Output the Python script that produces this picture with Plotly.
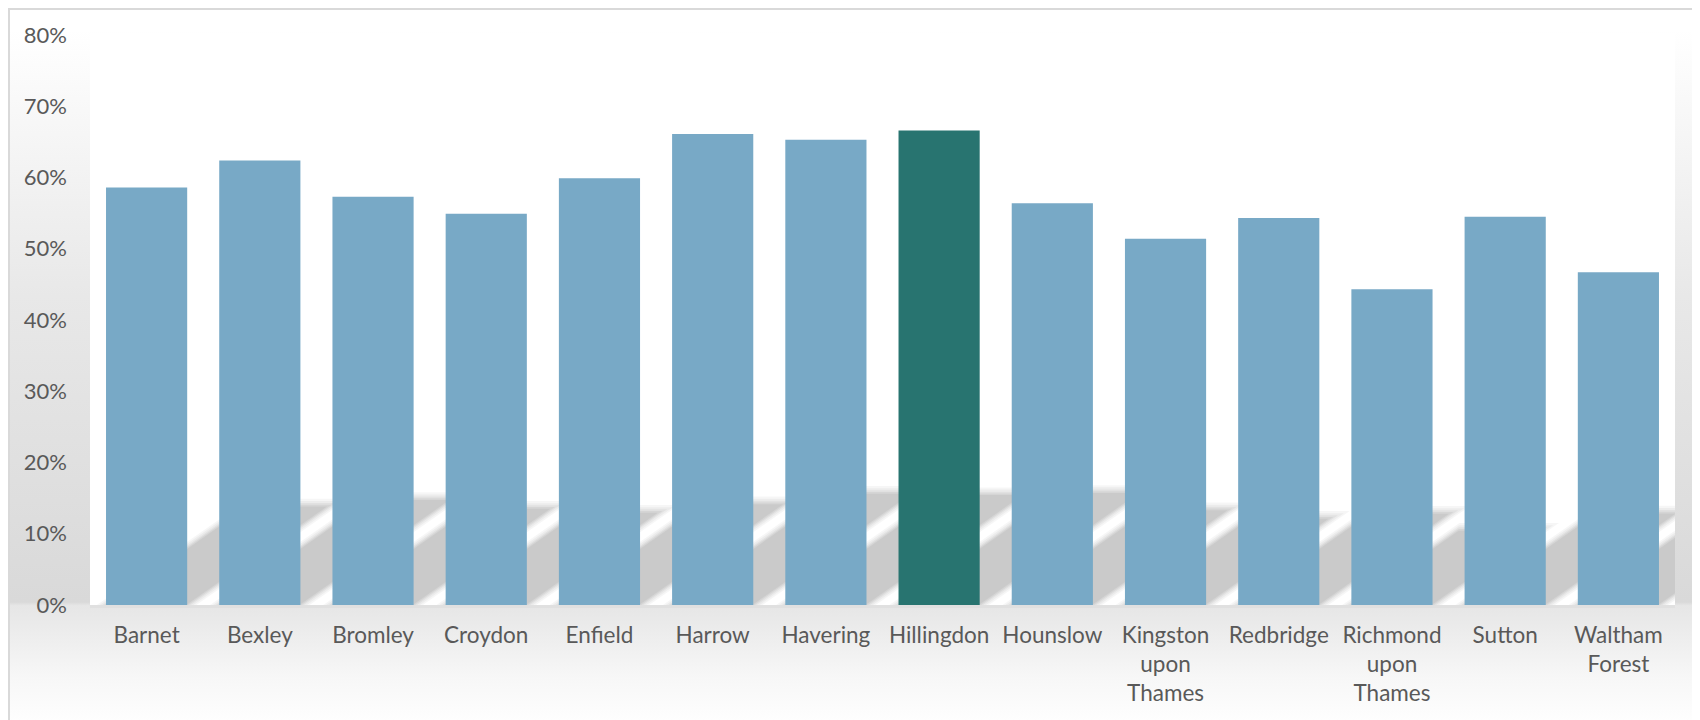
"""
Bar chart of London boroughs, Hillingdon highlighted
"""

import base64
import plotly.graph_objects as go

boroughs = ['Barnet', 'Bexley', 'Bromley', 'Croydon', 'Enfield', 'Harrow', 'Havering',
            'Hillingdon', 'Hounslow', 'Kingston<br>upon<br>Thames', 'Redbridge',
            'Richmond<br>upon<br>Thames', 'Sutton', 'Waltham<br>Forest']
share = [0.586, 0.624, 0.573, 0.549, 0.599, 0.661, 0.653,
         0.666, 0.564, 0.514, 0.543, 0.443, 0.545, 0.467]
highlight = 'Hillingdon'

W, H = 1700, 720
# the page adds an 8px body margin, so the figure sits 8px right/down
ML, MR, MT, MB = 82, 33, 27, 123
PW, PH = W - ML - MR, H - MT - MB

BLUE = '#78a9c6'
TEAL = '#287470'
TEXT = '#595959'

# background: frame, soft grey gradient and white plot area
svg = f'''<svg xmlns="http://www.w3.org/2000/svg" width="{W}" height="{H}" viewBox="0 0 {W} {H}">
<defs>
<linearGradient id="bg" gradientUnits="userSpaceOnUse" x1="0" y1="0" x2="0" y2="{H}">
<stop offset="0.03" stop-color="#ffffff"/>
<stop offset="0.40" stop-color="#e8e8e8"/>
<stop offset="0.825" stop-color="#d9d9d9"/>
<stop offset="0.83" stop-color="#e6e6e6"/>
<stop offset="0.93" stop-color="#f7f7f7"/>
<stop offset="1" stop-color="#ffffff"/>
</linearGradient>
</defs>
<rect x="0" y="0" width="{W}" height="{H}" fill="url(#bg)"/>
<rect x="0" y="0" width="{W}" height="2" fill="#d9d9d9"/>
<rect x="0" y="0" width="2" height="{H}" fill="#d9d9d9"/>
<rect x="{ML}" y="{MT + 1}" width="{PW}" height="{PH + 2}" fill="#e0e0e0"/>
<rect x="{ML}" y="{MT - 2}" width="{PW}" height="{PH + 2}" fill="#ffffff"/>
</svg>'''
src = 'data:image/svg+xml;base64,' + base64.b64encode(svg.encode()).decode()

colors = [TEAL if b == highlight else BLUE for b in boroughs]

fig = go.Figure(go.Bar(
    x=boroughs,
    y=share,
    marker=dict(color=colors, line=dict(width=0)),
    hoverinfo='x+y'
))

# perspective shadows behind the bars, layered to look soft
k = 0.238            # shadow height relative to bar
c = 1.43             # horizontal shift per vertical pixel
px_per_val = PH / 0.8
px_per_cat = PW / len(boroughs)
half = 0.36
shapes = []
for i, v in enumerate(share):
    h = k * v
    dx = c * h * px_per_val / px_per_cat
    for grow, op in [(0.08, 0.035), (0.055, 0.04), (0.03, 0.045), (0.01, 0.05), (-0.01, 0.05)]:
        x0 = i - half - grow
        x1 = i + half + grow
        top = h + grow * 0.12
        s = dx * top / h
        path = f'M {x0},0 L {x1},0 L {x1 + s},{top} L {x0 + s},{top} Z'
        shapes.append(dict(type='path', path=path, xref='x', yref='y',
                           fillcolor=f'rgba(0,0,0,{op})', line=dict(width=0),
                           layer='below'))

fig.update_layout(
    width=W, height=H,
    margin=dict(l=ML, r=MR, t=MT, b=MB, pad=0),
    paper_bgcolor='white',
    plot_bgcolor='rgba(0,0,0,0)',
    bargap=0.283,
    showlegend=False,
    font=dict(family='Lato, Open Sans, sans-serif', size=22, color=TEXT),
    images=[dict(source=src, xref='paper', yref='paper',
                 x=-ML / PW, y=1 + MT / PH, sizex=W / PW, sizey=H / PH,
                 xanchor='left', yanchor='top', sizing='stretch', layer='below')],
    shapes=shapes,
    xaxis=dict(
        showgrid=False, zeroline=False, showline=False,
        ticks='', ticklabelstandoff=14, tickangle=0,
        tickfont=dict(size=22.5),
        range=[-0.5, len(boroughs) - 0.5], fixedrange=True
    ),
    yaxis=dict(
        range=[0, 0.8], dtick=0.1, tickformat='.0%',
        showgrid=False, zeroline=False, showline=False,
        ticks='', ticklabelstandoff=22, fixedrange=True
    )
)

fig.write_html("out.html")
